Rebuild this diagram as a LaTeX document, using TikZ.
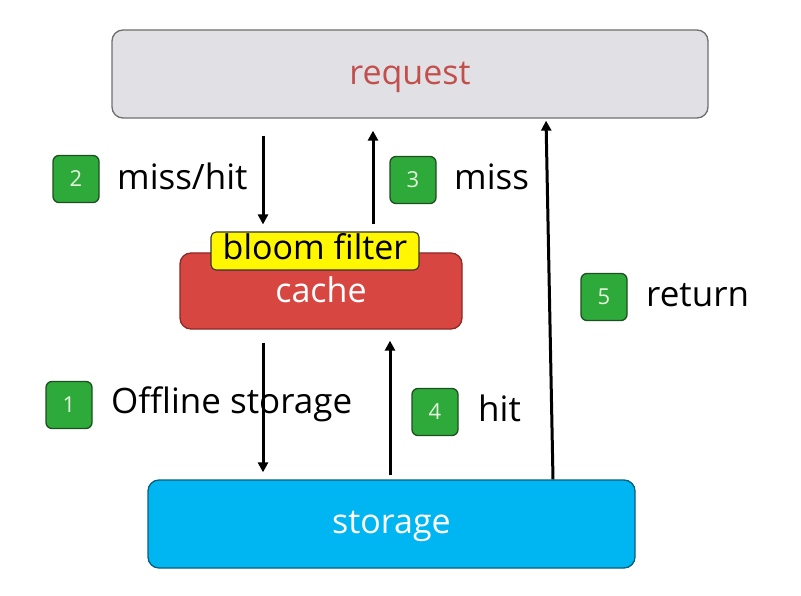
\documentclass[tikz,border=0pt]{standalone}
\usepackage{fontspec}
\setmainfont{Open Sans}
\usetikzlibrary{arrows.meta}
\definecolor{reqgray}{HTML}{E1E1E5}
\definecolor{reqborder}{HTML}{6E6E6E}
\definecolor{reqtext}{HTML}{C24F4C}
\definecolor{cachered}{HTML}{D84641}
\definecolor{cacheborder}{HTML}{8E2A26}
\definecolor{bloomyellow}{HTML}{FFF700}
\definecolor{storeblue}{HTML}{00B6F2}
\definecolor{storeborder}{HTML}{0A5E80}
\definecolor{badgegreen}{HTML}{2EAA3A}
\definecolor{badgeborder}{HTML}{1D4F20}
\definecolor{badgetext}{HTML}{E6F5E0}
\tikzset{
  box/.style={draw, line width=1.3pt, rounded corners=11pt, inner sep=0pt, text depth=0pt, font=\fontsize{34}{38}\selectfont},
  badge/.style={draw=badgeborder, fill=badgegreen, line width=1.3pt, rounded corners=6pt, minimum width=46pt, minimum height=47pt, inner sep=0pt, text=badgetext, font=\fontsize{22}{24}\selectfont},
  lbl/.style={anchor=base west, inner sep=0pt, font=\fontsize{35}{38}\selectfont},
  arr/.style={line width=3pt, -{Triangle[length=10pt,width=10pt]}}
}
\begin{document}
\begin{tikzpicture}[x=1pt,y=-1pt]
\useasboundingbox (0,0) rectangle (801,596);
\fill[white] (0,0) rectangle (801,596);
% boxes
\node[box, draw=reqborder, fill=reqgray, text=reqtext, text height=22pt, minimum width=596pt, minimum height=88pt] (req) at (410,74) {request};
\node[box, draw=cacheborder, fill=cachered, text=white, text height=22pt, minimum width=282pt, minimum height=76pt] (cache) at (321,291) {cache};
\node[box, draw=black!80, fill=bloomyellow, text=black, text height=18pt, rounded corners=5pt, minimum width=208pt, minimum height=38pt, line width=1.1pt] (bloom) at (315,251) {bloom filter};
\node[box, draw=storeborder, fill=storeblue, text=white, text height=18pt, minimum width=487pt, minimum height=88pt] (store) at (391.5,524) {storage};
% connector x positions
\coordinate (xa) at (263,0);
\coordinate (xb) at (373,0);
\coordinate (xc) at (390,0);
\coordinate (xd) at (553,0);
\coordinate (xe) at (546,0);
% connectors
\draw[arr, shorten <=17pt, shorten >=7pt] (req.south -| xa) -- (bloom.north -| xa);
\draw[arr, shorten <=7pt, shorten >=12pt] (bloom.north -| xb) -- (req.south -| xb);
\draw[arr, shorten <=13pt, shorten >=7pt] (cache.south -| xa) -- (store.north -| xa);
\draw[arr, shorten <=4pt, shorten >=11pt] (store.north -| xc) -- (cache.south -| xc);
\draw[arr, shorten >=2pt] (store.north -| xd) -- (req.south -| xe);
% badges and labels
\node[badge] (b2) at (76,179) {2};
\node[lbl] (l2) at (117,190) {miss/hit};
\node[badge] (b3) at (413,180) {3};
\node[lbl] (l3) at (454,190) {miss};
\node[badge] (b5) at (604,297) {5};
\node[lbl] (l5) at (646,306.5) {return};
\node[badge] (b1) at (69,405) {1};
\node[lbl] (l1) at (111,413) {Offline storage};
\node[badge] (b4) at (435,412) {4};
\node[lbl] (l4) at (478,421.5) {hit};
\end{tikzpicture}
\end{document}
